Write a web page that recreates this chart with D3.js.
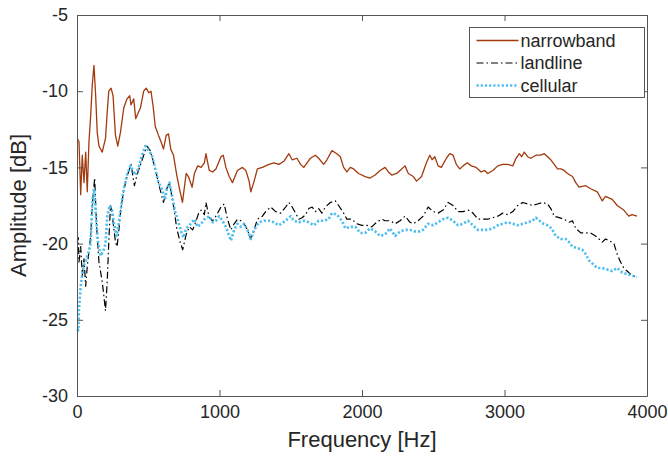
<!DOCTYPE html>
<html>
<head>
<meta charset="utf-8">
<script src="https://cdn.jsdelivr.net/npm/d3@7"></script>
<style>
  body { margin: 0; background: #fff; }
  text { font-family: "Liberation Sans", Arial, sans-serif; fill: #262626; }
</style>
</head>
<body>
<script>
// values (frequency in Hz, amplitude in dB)
const xTicks = [0, 1000, 2000, 3000, 4000];
const yTicks = [-30, -25, -20, -15, -10, -5];
const seriesNames = ["narrowband", "landline", "cellular"];

const narrowbandFreq = [2,14,26,37,49,61,72,84,96,107,119,131,142,154,177,200,212,223,239,253,270,286,305,328,351,370,379,398,412,426,445,468,486,503,519,533,549,572,589,607,626,642,658,677,700,719,740,766,782,808,824,847,871,894,905,928,952,975,1010,1026,1045,1068,1091,1126,1161,1185,1208,1220,1243,1266,1301,1347,1382,1417,1452,1487,1510,1543,1569,1592,1622,1638,1673,1696,1731,1754,1789,1824,1848,1871,1894,1918,1941,1976,2022,2057,2092,2127,2162,2185,2208,2243,2267,2302,2325,2360,2383,2418,2452,2476,2492,2511,2534,2557,2592,2616,2639,2662,2686,2709,2739,2767,2801,2836,2860,2883,2918,2953,2988,3023,3058,3081,3104,3120,3139,3162,3185,3220,3255,3279,3302,3325,3349,3372,3395,3419,3442,3477,3500,3523,3570,3604,3651,3686,3709,3756,3791,3837,3872,3895,3930];
const narrowbandDb = [-13.1,-13.3,-16.8,-14.2,-16.0,-14.0,-16.6,-13.3,-11.6,-9.6,-8.3,-10.3,-12.7,-13.6,-14.0,-13.1,-11.4,-10.0,-9.8,-10.3,-12.9,-13.6,-12.7,-11.1,-10.5,-10.3,-10.9,-10.5,-11.8,-11.5,-11.1,-10.0,-9.8,-10.1,-10.0,-10.9,-12.3,-12.9,-13.3,-13.8,-12.9,-12.8,-13.8,-14.2,-15.5,-16.4,-17.3,-15.4,-15.6,-16.3,-15.4,-14.9,-15.0,-14.7,-14.1,-15.2,-15.3,-15.1,-14.3,-14.2,-15.0,-15.6,-16.0,-15.2,-15.0,-15.2,-15.9,-16.6,-15.9,-15.1,-15.0,-14.8,-14.7,-14.8,-14.6,-14.1,-14.5,-14.4,-14.8,-15.0,-14.6,-14.4,-14.2,-14.4,-14.8,-14.5,-13.9,-14.1,-14.3,-15.0,-15.3,-15.0,-15.1,-15.4,-15.6,-15.7,-15.5,-15.2,-15.0,-15.3,-15.5,-15.4,-15.2,-14.9,-15.4,-15.6,-15.9,-15.6,-14.7,-14.2,-14.5,-14.3,-14.9,-15.0,-14.4,-14.1,-14.2,-14.8,-15.1,-14.9,-14.7,-14.9,-15.0,-15.3,-15.2,-15.4,-15.2,-14.9,-14.8,-14.8,-14.9,-14.4,-14.1,-14.3,-14.0,-14.3,-14.4,-14.2,-14.2,-14.1,-14.3,-14.5,-14.8,-15.1,-15.1,-15.2,-15.4,-15.6,-16.0,-16.3,-16.2,-16.4,-16.6,-17.2,-16.9,-17.1,-17.5,-17.8,-18.2,-18.1,-18.2];

const landlineFreq = [2,9,14,26,37,49,61,72,84,96,107,124,138,154,177,188,200,212,223,235,246,258,270,281,293,307,328,351,379,391,403,421,468,491,514,549,579,607,630,649,677,700,724,742,766,789,812,836,854,871,894,905,928,952,975,1010,1033,1056,1080,1103,1126,1150,1173,1196,1220,1243,1266,1301,1324,1359,1394,1429,1464,1487,1510,1534,1557,1580,1604,1627,1650,1673,1696,1719,1743,1778,1813,1836,1871,1894,1929,1964,1999,2034,2068,2103,2138,2162,2197,2232,2267,2302,2337,2360,2394,2429,2464,2499,2534,2569,2604,2639,2674,2709,2744,2779,2813,2848,2883,2918,2953,2988,3023,3058,3093,3128,3162,3197,3232,3267,3302,3325,3349,3384,3419,3454,3477,3500,3535,3570,3604,3639,3663,3686,3709,3733,3768,3791,3814,3837,3860,3884,3907,3930];
const landlineDb = [-19.9,-19.6,-21.2,-20.2,-22.1,-21.0,-22.8,-21.5,-20.5,-19.5,-17.5,-15.7,-19.0,-21.2,-22.5,-23.4,-24.4,-22.5,-19.9,-17.5,-18.0,-19.0,-19.9,-20.2,-19.2,-17.8,-16.5,-15.6,-14.8,-15.5,-16.2,-15.5,-14.2,-13.6,-13.9,-15.1,-16.3,-17.3,-16.4,-16.0,-17.5,-19.0,-19.9,-20.4,-19.4,-18.9,-19.1,-18.5,-18.0,-17.8,-18.1,-17.3,-18.3,-18.5,-18.2,-17.6,-17.4,-18.4,-19.1,-18.7,-18.4,-18.5,-18.7,-19.1,-19.7,-19.1,-18.4,-18.2,-17.9,-17.6,-17.9,-18.0,-17.6,-17.3,-17.6,-18.0,-18.4,-18.3,-18.1,-17.7,-17.6,-17.9,-17.7,-18.0,-17.6,-17.3,-17.2,-17.5,-18.0,-18.4,-18.4,-18.7,-18.8,-18.8,-18.9,-18.6,-18.4,-18.5,-18.5,-18.7,-18.5,-18.2,-18.6,-18.7,-18.5,-18.2,-17.6,-17.9,-18.0,-17.8,-17.3,-17.5,-17.9,-17.9,-17.8,-18.0,-18.4,-18.4,-18.4,-18.3,-18.2,-18.0,-18.1,-17.9,-17.5,-17.3,-17.4,-17.5,-17.4,-17.3,-17.4,-17.7,-18.2,-18.3,-18.4,-18.6,-18.5,-19.0,-19.3,-19.3,-19.3,-19.5,-19.7,-19.9,-19.7,-19.8,-20.0,-20.7,-21.2,-21.6,-21.8,-22.0,-22.1,-22.3];

const cellularFreq = [2,9,14,26,37,49,61,72,84,96,107,119,131,147,165,177,188,200,212,230,246,258,277,291,305,328,351,375,391,410,433,456,480,503,526,549,572,595,619,630,649,665,689,712,735,747,766,789,824,847,871,894,928,952,975,998,1021,1045,1080,1103,1126,1150,1173,1196,1220,1243,1278,1312,1347,1382,1417,1464,1499,1522,1557,1592,1627,1662,1696,1731,1766,1789,1824,1859,1883,1918,1953,1988,2022,2057,2092,2127,2162,2197,2232,2267,2302,2337,2371,2406,2429,2464,2499,2534,2569,2604,2639,2674,2709,2744,2779,2813,2848,2883,2918,2953,2988,3023,3058,3093,3128,3162,3197,3220,3246,3274,3302,3330,3360,3395,3430,3453,3477,3511,3546,3570,3593,3616,3651,3686,3721,3756,3791,3826,3860,3895,3930];
const cellularDb = [-25.6,-25.7,-24.3,-22.8,-22.0,-21.4,-21.2,-20.8,-20.5,-19.9,-17.5,-16.4,-17.9,-19.9,-20.8,-20.6,-20.4,-20.0,-18.2,-17.5,-17.8,-18.6,-19.5,-18.8,-17.9,-16.4,-15.5,-14.9,-15.2,-15.5,-15.0,-14.2,-13.6,-13.9,-14.2,-15.1,-16.0,-16.4,-17.1,-16.4,-16.0,-16.8,-17.9,-18.6,-19.3,-19.6,-19.0,-18.8,-18.4,-18.9,-18.7,-18.4,-18.2,-18.6,-18.5,-18.2,-18.5,-18.9,-19.8,-19.1,-18.7,-18.9,-18.7,-19.1,-19.7,-19.1,-18.6,-18.5,-18.5,-18.6,-18.8,-18.5,-18.2,-18.5,-18.6,-18.5,-18.6,-18.8,-18.5,-18.5,-18.4,-18.0,-18.1,-18.5,-19.0,-18.9,-18.9,-19.3,-19.3,-19.0,-19.2,-19.5,-19.4,-19.0,-19.5,-19.2,-19.1,-19.1,-19.2,-19.2,-19.1,-18.7,-18.8,-18.6,-18.4,-18.3,-18.5,-18.8,-18.7,-18.5,-18.8,-19.1,-19.1,-19.1,-19.0,-18.8,-18.7,-18.6,-18.7,-18.8,-18.7,-18.6,-18.5,-18.3,-18.5,-18.7,-18.8,-19.0,-19.5,-19.7,-19.7,-19.9,-20.2,-20.3,-20.4,-20.7,-21.1,-21.3,-21.6,-21.6,-21.7,-21.8,-21.6,-21.9,-22.0,-22.1,-22.2];

const W = 668, H = 458;
const margin = {left: 77, right: 21, top: 15, bottom: 62};
const iw = W - margin.left - margin.right,
      ih = H - margin.top - margin.bottom;

const x = d3.scaleLinear().domain([0, 4000]).range([0, iw]);
const y = d3.scaleLinear().domain([-30, -5]).range([ih, 0]);

const svg = d3.select("body").append("svg")
  .attr("width", W).attr("height", H);
const g = svg.append("g")
  .attr("transform", "translate(" + margin.left + "," + margin.top + ")");

// data series
const styles = [
  {freq: narrowbandFreq, db: narrowbandDb, color: "#a23a0e", width: 1.3, dash: null},
  {freq: landlineFreq, db: landlineDb, color: "#000", width: 1.2, dash: "7,3,1.5,3"},
  {freq: cellularFreq, db: cellularDb, color: "#4dbeee", width: 2.6, dash: "2.2,2"}
];
const line = d3.line().x(d => x(d[0])).y(d => y(d[1]));

const plot = g.append("g");
styles.forEach(s => {
  plot.append("path")
    .datum(s.freq.map((f, i) => [f, s.db[i]]))
    .attr("d", line)
    .attr("fill", "none")
    .attr("stroke", s.color)
    .attr("stroke-width", s.width)
    .attr("stroke-dasharray", s.dash)
    .attr("stroke-linejoin", "round");
});

// axes: box with inward ticks on all four sides
const tick = 6;
const axB = g.append("g").attr("transform", "translate(0," + ih + ")")
  .call(d3.axisBottom(x).tickValues(xTicks).tickSizeInner(-tick).tickSizeOuter(0).tickPadding(9).tickFormat(d3.format("d")));
const axT = g.append("g")
  .call(d3.axisTop(x).tickValues(xTicks).tickSizeInner(-tick).tickSizeOuter(0).tickFormat(""));
const axL = g.append("g")
  .call(d3.axisLeft(y).tickValues(yTicks).tickSizeInner(-tick).tickSizeOuter(0).tickPadding(9).tickFormat(d => d));
const axR = g.append("g").attr("transform", "translate(" + iw + ",0)")
  .call(d3.axisRight(y).tickValues(yTicks).tickSizeInner(-tick).tickSizeOuter(0).tickFormat(""));

[axB, axT, axL, axR].forEach(a => {
  a.selectAll("path.domain").attr("stroke", "#555").attr("stroke-width", 1);
  a.selectAll(".tick line").attr("stroke", "#555").attr("stroke-width", 1);
  a.selectAll(".tick text").attr("font-size", 18).attr("fill", "#262626")
    .attr("font-family", "Liberation Sans, Arial, sans-serif");
});

// axis labels
svg.append("text")
  .attr("x", margin.left + iw / 2).attr("y", 447)
  .attr("text-anchor", "middle").attr("font-size", 22)
  .text("Frequency [Hz]");
svg.append("text")
  .attr("transform", "translate(26," + (margin.top + ih / 2) + ") rotate(-90)")
  .attr("text-anchor", "middle").attr("font-size", 22)
  .text("Amplitude [dB]");

// legend
const legend = svg.append("g").attr("transform", "translate(469.5,27.5)");
legend.append("rect")
  .attr("width", 175).attr("height", 70)
  .attr("fill", "#fff").attr("stroke", "#555").attr("stroke-width", 1);
styles.forEach((s, i) => {
  const ly = 13 + i * 22.5;
  legend.append("line")
    .attr("x1", 7).attr("x2", 49).attr("y1", ly).attr("y2", ly)
    .attr("stroke", s.color).attr("stroke-width", s.width)
    .attr("stroke-dasharray", s.dash);
  legend.append("text")
    .attr("x", 51).attr("y", ly).attr("dy", "0.35em")
    .attr("font-size", 18)
    .text(seriesNames[i]);
});
</script>
</body>
</html>
